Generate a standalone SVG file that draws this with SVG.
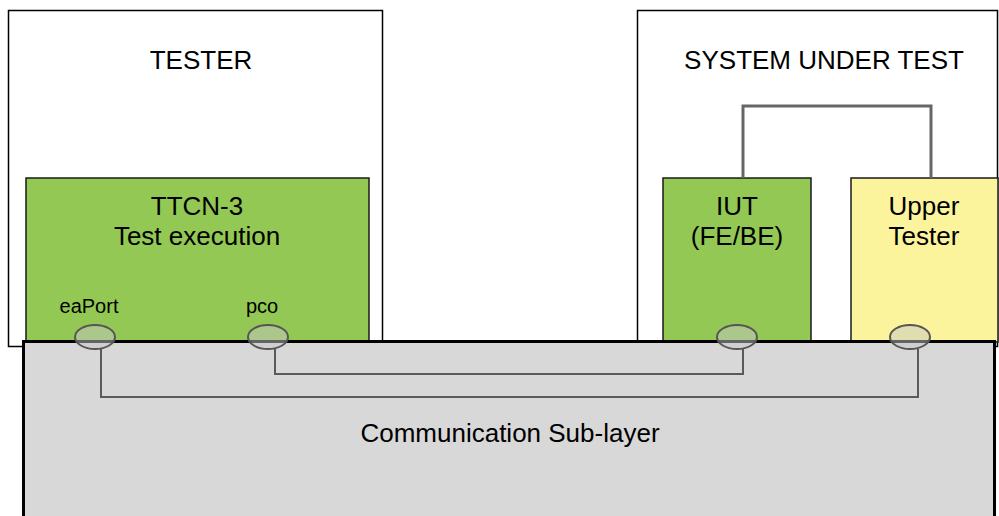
<svg xmlns="http://www.w3.org/2000/svg" width="999" height="516" viewBox="0 0 999 516">
<style>
.frame{fill:#fff;stroke:#000;stroke-width:1.5}
.green{fill:#92c853;stroke:#1a1a1a;stroke-width:1.5}
.yellow{fill:#fbf49c;stroke:#1a1a1a;stroke-width:1.5}
.layer{fill:#d8d8d8;stroke:#000;stroke-width:3}
.port{fill:#c6c6c6;fill-opacity:0.5;stroke:#555;stroke-width:2}
.conn{fill:none;stroke:#5a5a5a;stroke-width:2}
.link{fill:none;stroke:#666;stroke-width:3}
text{font-family:"Liberation Sans",Arial,sans-serif;fill:#000;text-anchor:middle}
.big{font-size:26px}
.small{font-size:20px}
</style>
<g id="tester">
<rect class="frame" x="8.5" y="10.5" width="374" height="336"/>
<text class="big" x="201" y="69">TESTER</text>
</g>
<g id="sut">
<rect class="frame" x="637.5" y="10.5" width="360" height="336"/>
<text class="big" x="824" y="69">SYSTEM UNDER TEST</text>
</g>
<g id="ttcn3">
<rect class="green" x="26" y="178" width="343" height="164"/>
<text class="big" x="197" y="215">TTCN-3</text>
<text class="big" x="197" y="245">Test execution</text>
<text class="small" x="89" y="313">eaPort</text>
<text class="small" x="262" y="313">pco</text>
</g>
<g id="iut">
<rect class="green" x="663" y="178" width="148" height="164"/>
<text class="big" x="737" y="215">IUT</text>
<text class="big" x="737" y="245">(FE/BE)</text>
</g>
<g id="upper-tester">
<rect class="yellow" x="851" y="178" width="147" height="164"/>
<text class="big" x="924" y="215">Upper</text>
<text class="big" x="924" y="245">Tester</text>
</g>
<g id="sublayer">
<rect class="layer" x="23.5" y="341.5" width="971" height="190"/>
<text class="big" x="510" y="442">Communication Sub-layer</text>
</g>
<g id="connectors">
<polyline class="link" points="743,178 743,106 931,106 931,178"/>
<polyline class="conn" points="101,349 101,397 918,397 918,349"/>
<polyline class="conn" points="275,349 275,374 743,374 743,349"/>
</g>
<g id="ports">
<ellipse class="port" cx="95" cy="337" rx="20" ry="12"/>
<ellipse class="port" cx="268" cy="337" rx="20" ry="12"/>
<ellipse class="port" cx="737" cy="337" rx="20" ry="12"/>
<ellipse class="port" cx="910" cy="337" rx="20" ry="12"/>
</g>
</svg>
